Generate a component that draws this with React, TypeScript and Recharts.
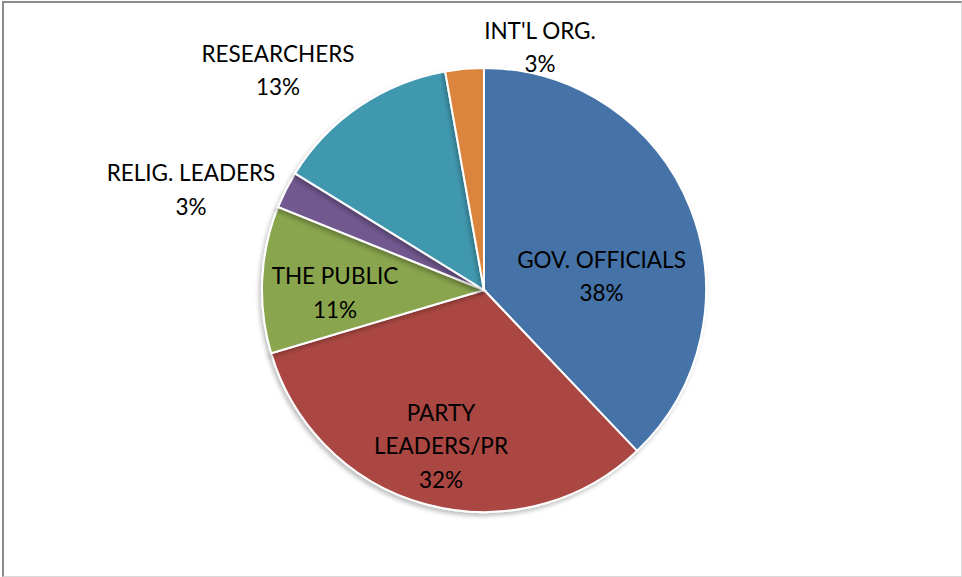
import { PieChart, Pie, Cell } from 'recharts';

const categories = ['GOV. OFFICIALS', 'PARTY LEADERS/PR', 'THE PUBLIC', 'RELIG. LEADERS', 'RESEARCHERS', "INT'L ORG."];
const shares = [37.9, 32.5, 10.7, 2.7, 13.4, 2.8];
const percentLabels = ['38%', '32%', '11%', '3%', '13%', '3%'];

// label text is split over lines like in the original
const labelLines = [
  ['GOV. OFFICIALS'],
  ['PARTY', 'LEADERS/PR'],
  ['THE PUBLIC'],
  ['RELIG. LEADERS'],
  ['RESEARCHERS'],
  ["INT'L ORG."],
];

const colors = ['#4572A7', '#AA4643', '#89A54E', '#71588F', '#4198AF', '#DB843D'];

// label block centre relative to the pie centre
const labelOffsets = [
  { dx: 117.5, dy: -13.5 },
  { dx: -43, dy: 156 },
  { dx: -149, dy: 3 },
  { dx: -293, dy: -100 },
  { dx: -206, dy: -219.5 },
  { dx: 56, dy: -242.5 },
];

const data = categories.map((name, i) => ({ name, value: shares[i], pct: percentLabels[i] }));

const LINE_H = 33.5;

function renderLabel(props: any) {
  const { cx, cy, index } = props;
  const lines = [...labelLines[index], percentLabels[index]];
  const off = labelOffsets[index];
  const x = cx + off.dx;
  const top = cy + off.dy - ((lines.length - 1) * LINE_H) / 2;
  return (
    <text
      key={`lbl-${index}`}
      x={x}
      y={top}
      textAnchor="middle"
      fill="#000"
      style={{ fontFamily: 'Lato, "Open Sans", sans-serif', fontSize: 22.5 }}
    >
      {lines.map((t, i) => (
        <tspan key={i} x={x} y={top + i * LINE_H} dy="0.36em">
          {t}
        </tspan>
      ))}
    </text>
  );
}

export default function App() {
  return (
    <div
      style={{
        position: 'fixed',
        left: 0,
        top: 0,
        width: 962,
        height: 577,
        background: '#fff',
      }}
    >
      <div
        style={{
          position: 'absolute',
          left: 2,
          top: 1,
          width: 957,
          height: 573,
          borderLeft: '2px solid #8c8c8c',
          borderTop: '2px solid #8c8c8c',
          borderRight: '1px solid #d9d9d9',
          borderBottom: '1px solid #d9d9d9',
        }}
      />
      <div style={{ position: 'absolute', left: 0, top: 0 }}>
        <PieChart width={962} height={577} margin={{ top: 0, right: 0, bottom: 0, left: 0 }}>
          <defs>
            <filter id="pieShadow" x="-10%" y="-10%" width="120%" height="120%">
              <feDropShadow dx="-2" dy="3" stdDeviation="2" floodColor="#000" floodOpacity="0.25" />
            </filter>
          </defs>
          <Pie
            data={data}
            dataKey="value"
            nameKey="name"
            cx={484}
            cy={290}
            outerRadius={222}
            startAngle={90}
            endAngle={-270}
            stroke="#fff"
            strokeWidth={2}
            label={renderLabel}
            labelLine={false}
            isAnimationActive={false}
            style={{ filter: 'url(#pieShadow)' }}
          >
            {data.map((d, i) => (
              <Cell key={d.name} fill={colors[i]} />
            ))}
          </Pie>
        </PieChart>
      </div>
    </div>
  );
}
